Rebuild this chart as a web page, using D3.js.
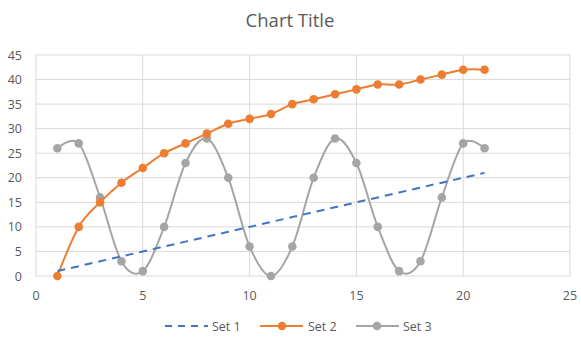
<!DOCTYPE html>
<html><head><meta charset="utf-8">
<script src="https://cdn.jsdelivr.net/npm/d3@7"></script>
<style>body{margin:0;background:#fff}svg{display:block}</style>
</head><body>
<script>
const xs = [1,2,3,4,5,6,7,8,9,10,11,12,13,14,15,16,17,18,19,20,21];
const set1 = [1,2,3,4,5,6,7,8,9,10,11,12,13,14,15,16,17,18,19,20,21];
const set2 = [0,10,15,19,22,25,27,29,31,32,33,35,36,37,38,39,39,40,41,42,42];
const set3 = [26,27,16,3,1,10,23,28,20,6,0,6,20,28,23,10,1,3,16,27,26];
const xTicks = [0,5,10,15,20,25];
const yTicks = [0,5,10,15,20,25,30,35,40,45];
const seriesNames = ["Set 1","Set 2","Set 3"];

const W=581,H=346;
const svg=d3.select("body").append("svg").attr("width",W).attr("height",H);
const x=d3.scaleLinear().domain([0,25]).range([36,570]);
const y=d3.scaleLinear().domain([0,45]).range([276,55]);
const font="'Open Sans', sans-serif";
const txt="#595959";

svg.append("text").attr("x",290).attr("y",27).attr("text-anchor","middle")
  .attr("font-family",font).attr("font-size",18.5).attr("fill",txt).text("Chart Title");

const g=svg.append("g");
g.selectAll(".hg").data(yTicks).join("line").attr("x1",x(0)).attr("x2",x(25))
  .attr("y1",d=>y(d)).attr("y2",d=>y(d)).attr("stroke","#d9d9d9").attr("stroke-width",1);
g.selectAll(".vg").data(xTicks).join("line").attr("y1",y(0)).attr("y2",y(45))
  .attr("x1",d=>x(d)).attr("x2",d=>x(d)).attr("stroke","#d9d9d9").attr("stroke-width",1);

g.selectAll(".yl").data(yTicks).join("text").attr("x",22).attr("y",d=>y(d)+4.5)
  .attr("text-anchor","end").attr("font-family",font).attr("font-size",12.5).attr("fill",txt).text(d=>d);
g.selectAll(".xl").data(xTicks).join("text").attr("x",d=>x(d)).attr("y",300)
  .attr("text-anchor","middle").attr("font-family",font).attr("font-size",12.5).attr("fill",txt).text(d=>d);

const curve=d3.curveCardinal.tension(0);
const d1=xs.map((v,i)=>[v,set1[i]]), d2=xs.map((v,i)=>[v,set2[i]]), d3s=xs.map((v,i)=>[v,set3[i]]);
const line=d3.line().x(d=>x(d[0])).y(d=>y(d[1]));
const sline=d3.line().x(d=>x(d[0])).y(d=>y(d[1])).curve(curve);

svg.append("path").attr("d",sline(d3s)).attr("fill","none").attr("stroke","#a5a5a5").attr("stroke-width",2);
svg.selectAll(".m3").data(d3s).join("circle").attr("cx",d=>x(d[0])).attr("cy",d=>y(d[1])).attr("r",4.3).attr("fill","#a5a5a5");
svg.append("path").attr("d",sline(d2)).attr("fill","none").attr("stroke","#ed7d31").attr("stroke-width",2);
svg.selectAll(".m2").data(d2).join("circle").attr("cx",d=>x(d[0])).attr("cy",d=>y(d[1])).attr("r",4.3).attr("fill","#ed7d31");
svg.append("path").attr("d",line(d1)).attr("fill","none").attr("stroke","#4472c4").attr("stroke-width",2).attr("stroke-dasharray","8,6");

// legend
const lg=svg.append("g").attr("font-family",font).attr("font-size",12.5).attr("fill",txt);
const ly=326;
lg.append("line").attr("x1",165).attr("x2",208).attr("y1",ly).attr("y2",ly).attr("stroke","#4472c4").attr("stroke-width",2).attr("stroke-dasharray","7,6");
lg.append("text").attr("x",212).attr("y",ly+4.5).text(seriesNames[0]);
lg.append("line").attr("x1",260).attr("x2",303).attr("y1",ly).attr("y2",ly).attr("stroke","#ed7d31").attr("stroke-width",2);
lg.append("circle").attr("cx",282).attr("cy",ly).attr("r",4.3).attr("fill","#ed7d31");
lg.append("text").attr("x",308).attr("y",ly+4.5).text(seriesNames[1]);
lg.append("line").attr("x1",356).attr("x2",399).attr("y1",ly).attr("y2",ly).attr("stroke","#a5a5a5").attr("stroke-width",2);
lg.append("circle").attr("cx",377).attr("cy",ly).attr("r",4.3).attr("fill","#a5a5a5");
lg.append("text").attr("x",403).attr("y",ly+4.5).text(seriesNames[2]);
</script>
</body></html>
